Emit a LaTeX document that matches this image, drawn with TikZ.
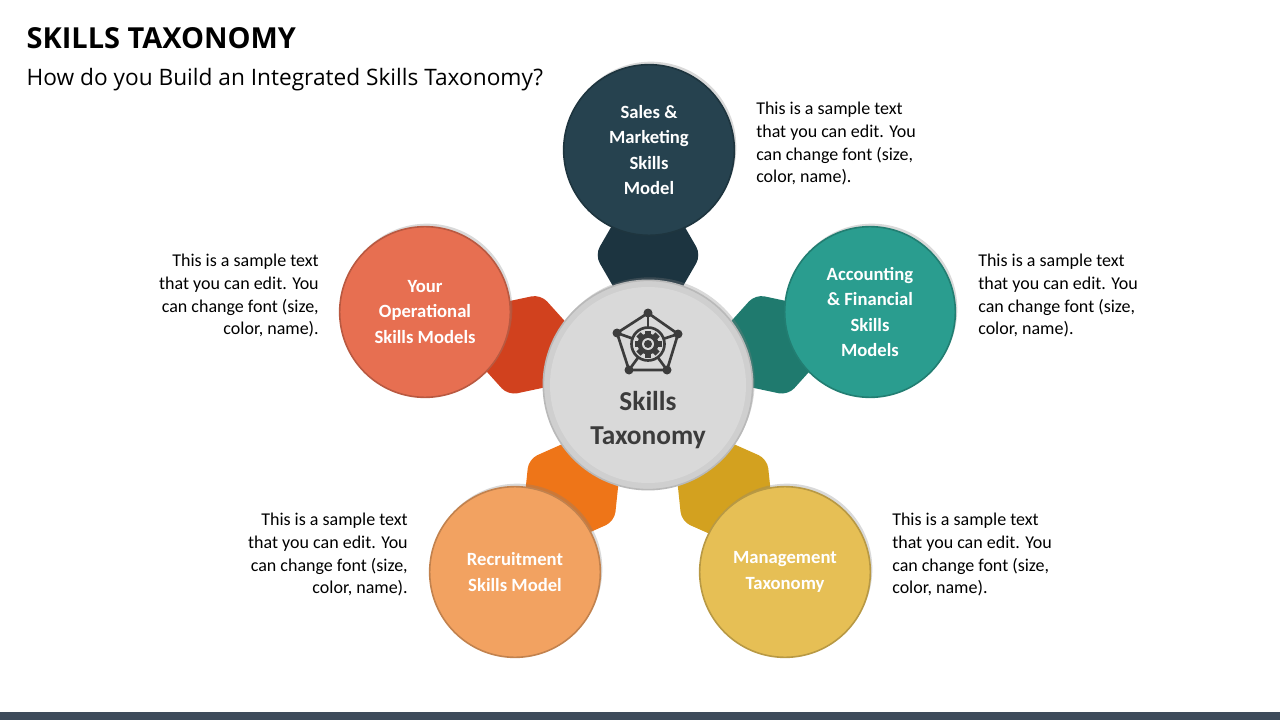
\documentclass[tikz,border=0pt]{standalone}
\usepackage{fontspec}
\setmainfont{Carlito}
\newfontfamily\titlefont{Open Sans}
\usetikzlibrary{shadows,calc}
\definecolor{cTop}{HTML}{26424F}\definecolor{hTop}{HTML}{1C3440}
\definecolor{cLeft}{HTML}{E76F51}\definecolor{hLeft}{HTML}{D1411E}
\definecolor{cRight}{HTML}{2A9D8F}\definecolor{hRight}{HTML}{1F7A6E}
\definecolor{cBL}{HTML}{F2A261}\definecolor{hBL}{HTML}{EE7518}
\definecolor{cBR}{HTML}{E6BF55}\definecolor{hBR}{HTML}{D3A11F}
\definecolor{icon}{HTML}{3C3C3C}
\definecolor{bar}{HTML}{3E4B5B}
\tikzset{
 outer/.style={circle,minimum size=128pt,inner sep=0pt,draw=#1!80!black,line width=1.2,fill=#1,drop shadow={opacity=0.3,shadow xshift=2,shadow yshift=-3},text=white,align=center,font=\bfseries\fontsize{14}{19}\selectfont},
 body/.style={font=\fontsize{13.5}{17}\selectfont,text=black,inner sep=0pt},
}
\newcommand{\hexa}[3]{% center, direction angle, color
 \fill[#3,rounded corners=7] ($(#1)+(#2+30:53)$) -- ($(#1)+(#2+90:53)$) -- ($(#1)+(#2+150:53)$) -- ($(#1)+(#2+210:53)$) -- ($(#1)+(#2+270:53)$) -- ($(#1)+(#2+330:53)$) -- cycle;}
\begin{document}
\begin{tikzpicture}[x=0.75pt,y=-0.75pt]
\useasboundingbox (0,0) rectangle (1280,720);
\fill[bar] (0,712) rectangle (1280,720);
\node[anchor=west,font=\titlefont\bfseries\fontsize{21.7}{25}\selectfont] (title) at (22,38) {SKILLS TAXONOMY};
\node[anchor=west,font=\titlefont\fontsize{17}{20}\selectfont] (sub) at (22,80) {How do you Build an Integrated Skills Taxonomy?};
\coordinate (c) at (648,385);
\foreach \a/\n in {-90/ht,-18/hr,54/hbr,126/hbl,198/hl}{\coordinate (\n) at ($(c)+(\a:130)$);}
\hexa{ht}{-90}{hTop}
\hexa{hr}{-18}{hRight}
\hexa{hbr}{54}{hBR}
\hexa{hbl}{126}{hBL}
\hexa{hl}{198}{hLeft}
\node[outer=cTop] (top) at (649,150) {Sales \&\\Marketing\\Skills\\Model};
\node[outer=cRight] (right) at (870,312) {Accounting\\\& Financial\\Skills\\Models};
\node[outer=cLeft] (left) at (425,312) {Your\\Operational\\Skills Models};
\node[outer=cBL] (bl) at (515,572) {Recruitment\\Skills Model};
\node[outer=cBR] (br) at (785,572) {Management\\Taxonomy};
\node[circle,minimum size=157pt,inner sep=0pt,fill=gray!38,draw=gray!55,line width=1.2,drop shadow={opacity=0.3,shadow xshift=2,shadow yshift=-3}] (center) at (c) {};
\node[circle,minimum size=147pt,inner sep=0pt,fill=gray!30] (ci) at (c) {};
\node[align=center,text=icon,font=\bfseries\fontsize{20.5}{25}\selectfont] (ct) at (648,420) {Skills\\Taxonomy};
% icon
\begin{scope}[icon,line width=2]
\coordinate (p1) at (648,313);\coordinate (p2) at (678,334);\coordinate (p3) at (667,370);\coordinate (p4) at (629,370);\coordinate (p5) at (617,333);
\coordinate (g) at (648,344);
\draw (p1)--(p2)--(p3)--(p4)--(p5)--cycle;
\foreach \p in {p1,p2,p3,p4,p5}{\draw (g)--(\p); \fill (\p) circle (4.5);}
\fill[gray!30] (g) circle (17);
\draw (g) circle (16.5);
\foreach \k in {0,45,...,315}{\fill[rotate around={\k:(g)}] ($(g)+(-3,-13.5)$) rectangle ($(g)+(3,-8)$);}
\fill (g) circle (10.5);
\fill[gray!30] (g) circle (6);
\fill (g) circle (4);
\end{scope}
% body texts
\node[body,anchor=north west,align=left] (t1) at (756,102) {This is a sample text\\that you can edit. You\\can change font (size,\\color, name).};
\node[body,anchor=north west,align=left] (t2) at (978,254) {This is a sample text\\that you can edit. You\\can change font (size,\\color, name).};
\node[body,anchor=north east,align=right] (t3) at (319,254) {This is a sample text\\that you can edit. You\\can change font (size,\\color, name).};
\node[body,anchor=north east,align=right] (t4) at (408,513) {This is a sample text\\that you can edit. You\\can change font (size,\\color, name).};
\node[body,anchor=north west,align=left] (t5) at (892,513) {This is a sample text\\that you can edit. You\\can change font (size,\\color, name).};
\end{tikzpicture}
\end{document}
